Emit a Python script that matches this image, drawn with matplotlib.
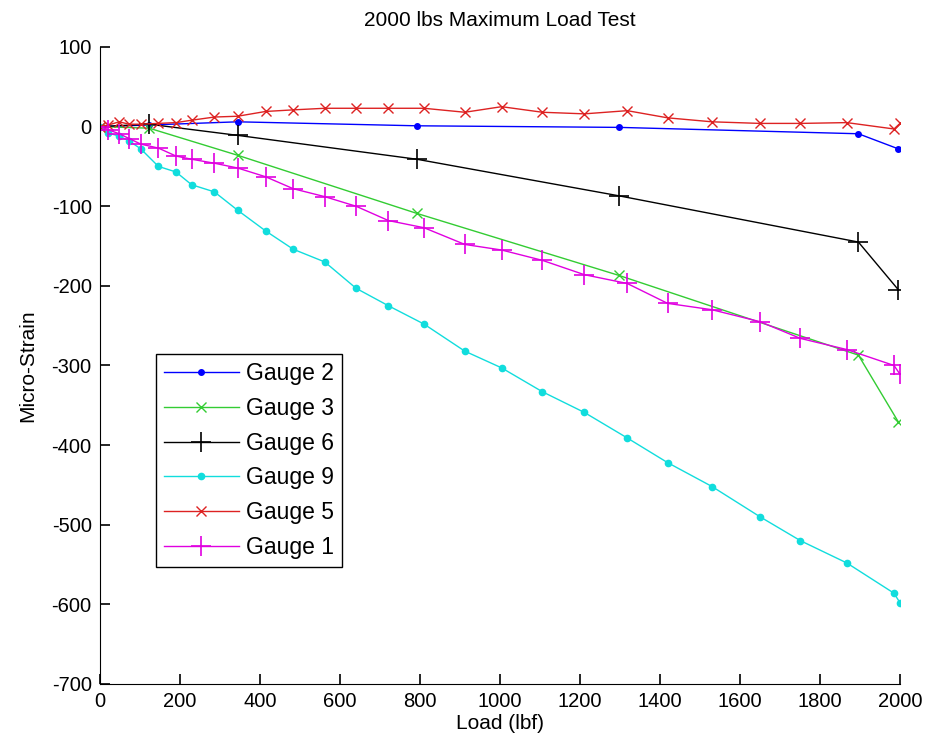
import matplotlib
matplotlib.use('Agg')
import matplotlib.pyplot as plt

plt.rcParams['font.family'] = ['Liberation Sans', 'DejaVu Sans']
plt.rcParams['axes.unicode_minus'] = False

# loads where gauges 1, 5, 9 were read
load_dense = [0, 21, 48, 73, 102, 146, 190, 229, 286, 344, 414, 483, 562, 640,
              721, 810, 912, 1004, 1106, 1211, 1318, 1419, 1530, 1650, 1751,
              1867, 1985, 2000]
# loads where gauges 2, 3, 6 were read
load_sparse = [0, 123, 344, 792, 1298, 1896, 1996]

gauge2 = [0, 2, 6, 1, -1, -9, -28]
gauge3 = [0, -2, -36, -109, -187, -287, -371]
gauge6 = [0, 3, -11, -41, -87, -145, -205]
gauge9 = [0, -8, -12, -18, -28, -50, -57, -73, -82, -105, -131, -154, -170,
          -203, -225, -248, -282, -303, -333, -359, -391, -422, -452, -490,
          -520, -548, -586, -598]
gauge5 = [0, 2, 6, 3, 3, 4, 5, 8, 12, 13, 19, 21, 23, 23, 23, 23, 18, 25, 18,
          16, 20, 11, 6, 4, 4, 5, -3, 4]
gauge1 = [0, -4, -9, -15, -22, -27, -37, -41, -46, -52, -63, -78, -88, -100,
          -118, -127, -148, -155, -168, -186, -197, -222, -230, -245, -266,
          -280, -300, -311]

fig = plt.figure(figsize=(9.31, 7.49), dpi=100)
ax = fig.add_axes([0.1074, 0.0868, 0.8593, 0.8505])

lw = 1.0
ax.plot(load_sparse, gauge2, color='#0000ff', marker='.', ms=8, lw=lw, label='Gauge 2')
ax.plot(load_sparse, gauge3, color='#33cc33', marker='x', ms=7, lw=lw, label='Gauge 3')
ax.plot(load_sparse, gauge6, color='black', marker='+', ms=14, mew=1.2, lw=lw, label='Gauge 6')
ax.plot(load_dense, gauge9, color='#11dddd', marker='.', ms=9, lw=lw, label='Gauge 9')
ax.plot(load_dense, gauge5, color='#dd2222', marker='x', ms=7, lw=lw, label='Gauge 5')
ax.plot(load_dense, gauge1, color='#e000e0', marker='+', ms=14, mew=1.2, lw=lw, label='Gauge 1')

ax.set_xlim(0, 2000)
ax.set_ylim(-700, 100)
ax.set_xticks(range(0, 2001, 200))
ax.set_yticks(range(-700, 101, 100))

for s in ['top', 'right']:
    ax.spines[s].set_visible(False)
ax.tick_params(direction='in', length=7, width=1.2, labelsize=14.5, pad=6)

ax.set_title('2000 lbs Maximum Load Test', fontsize=15, pad=15)
ax.set_xlabel('Load (lbf)', fontsize=15, labelpad=2)
ax.set_ylabel('Micro-Strain', fontsize=15, labelpad=10)

ax.legend(loc='lower left', bbox_to_anchor=(0.07, 0.184), borderaxespad=0,
          fontsize=16.5, frameon=True, fancybox=False, edgecolor='black',
          handlelength=3.27, handletextpad=0.3, labelspacing=0.51,
          borderpad=0.35, framealpha=1)

fig.savefig('out.png', dpi=100)
